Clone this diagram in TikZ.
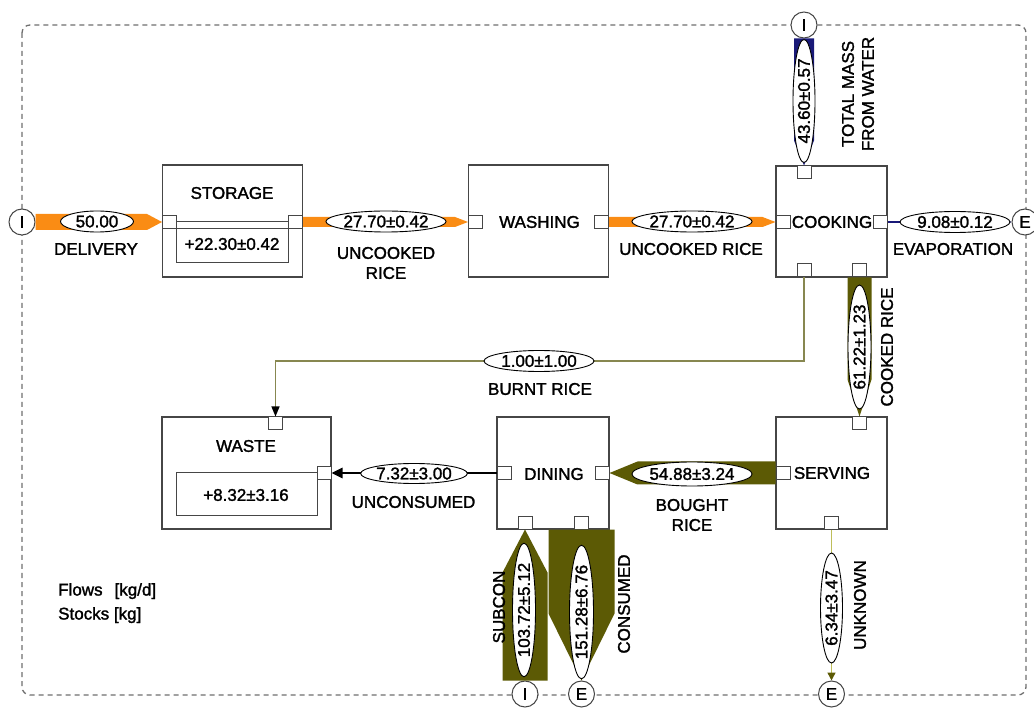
\documentclass[tikz,border=0pt]{standalone}
\usepackage{fontspec}
\setmainfont{Liberation Sans}[FakeBold=1.6]
\usetikzlibrary{calc,arrows.meta,shapes.geometric}
\definecolor{orangeflow}{RGB}{250,140,20}
\definecolor{oliveflow}{RGB}{92,90,5}
\definecolor{navyflow}{RGB}{25,25,120}
\definecolor{burntline}{RGB}{135,135,80}
\definecolor{unkline}{RGB}{190,190,90}
\definecolor{boxline}{RGB}{70,70,70}
\definecolor{frameline}{RGB}{110,110,110}
\tikzset{
  txt/.style={font=\fontsize{17}{20}\selectfont, inner sep=0pt, align=center},
  procbox/.style={draw=boxline, line width=1.2pt, fill=white, inner sep=0pt},
  port/.style={draw=boxline, line width=1pt, fill=white, minimum width=14pt, minimum height=13pt, inner sep=0pt},
  term/.style={circle, draw=boxline, line width=1pt, fill=white, minimum size=26pt, inner sep=0pt, font=\fontsize{17}{20}\selectfont},
  val/.style={ellipse, draw=black, line width=0.9pt, fill=white, inner sep=0pt, font=\fontsize{17}{20}\selectfont},
  stockbox/.style={draw=boxline, line width=1pt},
}
\begin{document}
\begin{tikzpicture}[x=1pt,y=-1pt]
\useasboundingbox (0,0) rectangle (1034,708);
% system boundary
\draw[frameline, line width=1.3pt, dash pattern=on 5pt off 4pt, rounded corners=8pt] (22,25) rectangle (1026,695);

% processes
\node[procbox, minimum width=140pt, minimum height=112pt] (sto) at (232.5,221) {};
\node[procbox, minimum width=140pt, minimum height=112pt] (wash) at (538.5,221) {};
\node[procbox, minimum width=111pt, minimum height=111pt] (cook) at (831.5,221.5) {};
\node[procbox, minimum width=169pt, minimum height=112pt] (waste) at (246.5,473) {};
\node[procbox, minimum width=112pt, minimum height=112pt] (din) at (553,473) {};
\node[procbox, minimum width=111pt, minimum height=112pt] (serv) at (831.5,473) {};

% stock boxes
\draw[stockbox] (176.5,222) rectangle (288.5,263);
\draw[stockbox] (176.5,229) -- (288.5,229);
\draw[stockbox] (176.5,473) rectangle (317,515);

% ports
\node[port] (stoL) at (169.5,222) {};
\node[port] (stoR) at (295.5,222) {};
\node[port] (washL) at (475.5,222) {};
\node[port] (washR) at (601.5,222) {};
\node[port] (cookL) at (783,222) {};
\node[port] (cookR) at (880,222) {};
\node[port] (cookT) at (804,172.5) {};
\node[port] (cookBa) at (804,270.5) {};
\node[port] (cookBb) at (859.5,270.5) {};
\node[port] (wasteT) at (275.5,423.5) {};
\node[port] (wasteR) at (324,473) {};
\node[port] (dinL) at (504,473) {};
\node[port] (dinR) at (602,473) {};
\node[port] (dinBa) at (525,522.5) {};
\node[port] (dinBb) at (581.5,522.5) {};
\node[port] (servT) at (859.5,423.5) {};
\node[port] (servL) at (783,473) {};
\node[port] (servB) at (831.5,522.5) {};

% terminals
\node[term] (inL) at (22,222) {I};
\node[term] (inT) at (804,25) {I};
\node[term] (outR) at (1025,222) {E};
\node[term] (inB) at (525,694) {I};
\node[term] (outBb) at (581.5,694) {E};
\node[term] (outBc) at (831.5,694) {E};

% process names and stocks
\node[txt] at (232,193) {STORAGE};
\node[txt] at (232,244) {+22.30±0.42};
\node[txt] at (539.5,222) {WASHING};
\node[txt] at (832,222) {COOKING};
\node[txt] at (246,446) {WASTE};
\node[txt] at (246,495) {+8.32±3.16};
\node[txt] at (554,474) {DINING};
\node[txt] at (832,473) {SERVING};

% ---- flows ----
% delivery
\fill[orangeflow] ($(inL.east)+(0,-8)$) -- ($(stoL.west)+(-15,-8)$) -- (stoL.west) -- ($(stoL.west)+(-15,8)$) -- ($(inL.east)+(0,8)$) -- cycle;
% uncooked rice 1
\fill[orangeflow] ($(stoR.east)+(0,-5)$) -- ($(washL.west)+(-13,-5)$) -- (washL.west) -- ($(washL.west)+(-13,5)$) -- ($(stoR.east)+(0,5)$) -- cycle;
% uncooked rice 2
\fill[orangeflow] ($(washR.east)+(0,-5)$) -- ($(cookL.west)+(-13,-5)$) -- (cookL.west) -- ($(cookL.west)+(-13,5)$) -- ($(washR.east)+(0,5)$) -- cycle;
% water
\fill[navyflow] ($(inT.south)+(-10,0)$) -- ($(cookT.north)+(-10,-25)$) -- (cookT.north) -- ($(cookT.north)+(10,-25)$) -- ($(inT.south)+(10,0)$) -- cycle;
% evaporation
\draw[navyflow, line width=2pt, -{Triangle[length=8pt,width=7pt]}] (cookR.east) -- (outR.west);
% cooked rice
\fill[oliveflow] ($(cookBb.south)+(-12,0)$) -- ($(servT.north)+(-12,-37)$) -- (servT.north) -- ($(servT.north)+(12,-37)$) -- ($(cookBb.south)+(12,0)$) -- cycle;
% burnt rice
\coordinate (burntY) at (539,361);
\draw[burntline, line width=1.2pt, -{Triangle[length=10pt,width=8pt,fill=black,color=black]}] (cookBa.south) |- (burntY) -| (wasteT.north);
\node[val, minimum width=110pt, minimum height=21pt] (vBurnt) at (burntY) {1.00±1.00};
% bought rice
\fill[oliveflow] ($(servL.west)+(0,-11.5)$) -- ($(dinR.east)+(28,-11.5)$) -- (dinR.east) -- ($(dinR.east)+(28,11.5)$) -- ($(servL.west)+(0,11.5)$) -- cycle;
% unconsumed
\draw[black, line width=2.6pt, -{Triangle[length=11pt,width=10pt]}] (dinL.west) -- (wasteR.east);
% subcon
\fill[oliveflow] ($(inB.north)+(-22.5,0)$) -- ($(dinBa.south)+(-22.5,43)$) -- (dinBa.south) -- ($(dinBa.south)+(22.5,43)$) -- ($(inB.north)+(22.5,0)$) -- cycle;
% consumed
\fill[oliveflow] ($(dinBb.south)+(-33,0)$) -- ($(outBb.north)+(-33,-67)$) -- (outBb.north) -- ($(outBb.north)+(33,-67)$) -- ($(dinBb.south)+(33,0)$) -- cycle;
% unknown
\draw[unkline, line width=1.5pt, -{Triangle[length=8pt,width=8pt,fill=oliveflow,color=oliveflow]}] (servB.south) -- (outBc.north);

% ---- flow values ----
\node[val, minimum width=73pt, minimum height=21pt] (vDel) at (97,221.5) {50.00};
\node[val, minimum width=118pt, minimum height=21pt] (vUnc1) at (386,221.5) {27.70±0.42};
\node[val, minimum width=117pt, minimum height=21pt] (vUnc2) at (692,221.5) {27.70±0.42};
\node[val, minimum width=110pt, minimum height=21pt] (vEvap) at (955,222) {9.08±0.12};
\node[val, minimum width=123pt, minimum height=22pt, rotate=90] (vWater) at (804,101) {43.60±0.57};
\node[val, minimum width=124pt, minimum height=23pt, rotate=90] (vCooked) at (859.5,347) {61.22±1.23};
\node[val, minimum width=115pt, minimum height=24pt] (vBought) at (692,474) {54.88±3.24};
\node[val, minimum width=106pt, minimum height=20pt] (vUncons) at (414,473.5) {7.32±3.00};
\node[val, minimum width=126pt, minimum height=23pt, rotate=90] (vSub) at (524,610) {103.72±5.12};
\node[val, minimum width=132pt, minimum height=24pt, rotate=90] (vCons) at (581.5,612) {151.28±6.76};
\node[val, minimum width=110pt, minimum height=22pt, rotate=90] (vUnk) at (831.5,608) {6.34±3.47};

% ---- flow names ----
\node[txt] at (96,249) {DELIVERY};
\node[txt] at (386,263) {UNCOOKED\\RICE};
\node[txt] at (691,249) {UNCOOKED RICE};
\node[txt] at (953,249) {EVAPORATION};
\node[txt, rotate=90] at (858,94) {TOTAL MASS\\FROM WATER};
\node[txt, rotate=90] at (887,347) {COOKED RICE};
\node[txt] at (540,389) {BURNT RICE};
\node[txt] at (413.5,502) {UNCONSUMED};
\node[txt] at (692,515) {BOUGHT\\RICE};
\node[txt, rotate=90] at (499,607) {SUBCON};
\node[txt, rotate=90] at (624,604) {CONSUMED};
\node[txt, rotate=90] at (860,605) {UNKNOWN};

% legend
\node[txt, align=left, anchor=north west, font=\fontsize{17}{24}\selectfont] at (58,583) {Flows\hspace{12pt}[kg/d]\\Stocks [kg]};
\end{tikzpicture}
\end{document}
